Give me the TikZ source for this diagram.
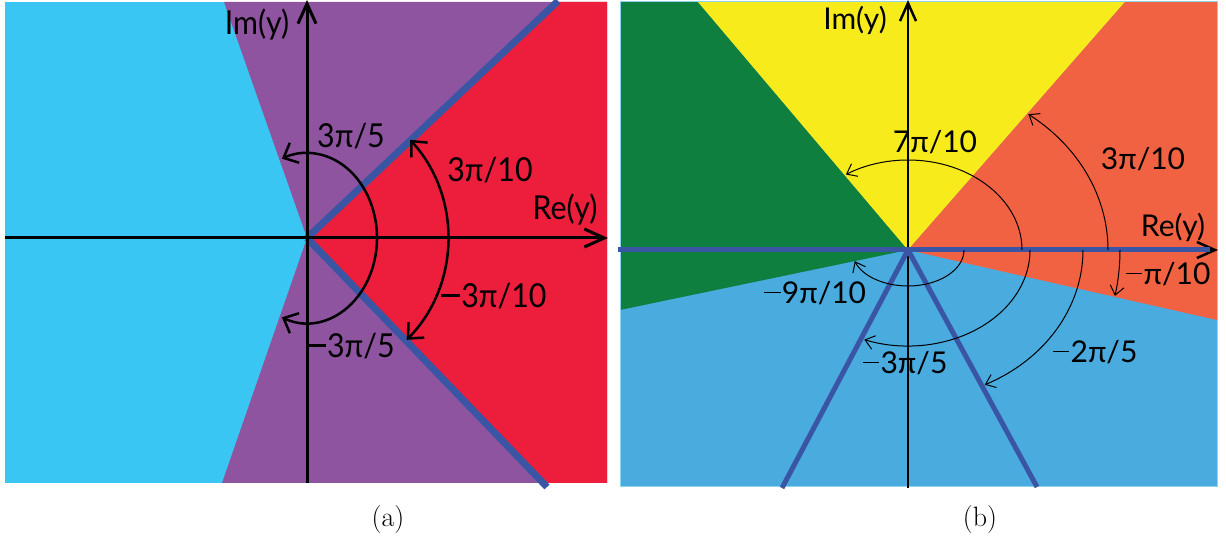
\documentclass[tikz,border=0pt]{standalone}
\usepackage{fontspec}
\newfontfamily\labfont{Lato}
\newfontfamily\labfontA[FakeStretch=0.92]{Lato}
\newcommand\mneg{\rule[0.33em]{0.56em}{0.065em}\hspace{0.04em}}
\usetikzlibrary{arrows.meta}
\definecolor{cyanA}{HTML}{3AC6F3}
\definecolor{purpA}{HTML}{8F54A0}
\definecolor{redA}{HTML}{EC1E3C}
\definecolor{blueL}{HTML}{3A55A4}
\definecolor{greenB}{HTML}{0F7F3F}
\definecolor{yellowB}{HTML}{F7EB1B}
\definecolor{orangeB}{HTML}{F16243}
\definecolor{lblueB}{HTML}{4AABDF}
\definecolor{borderB}{HTML}{8FD3F0}
\begin{document}
\begin{tikzpicture}[x=1pt,y=1pt,
  labA/.style={font=\labfontA\fontsize{33}{38}\selectfont, inner sep=0pt},
  lab/.style={font=\labfont\fontsize{30}{36}\selectfont, inner sep=0pt},
  captxt/.style={font=\fontsize{28}{32}\selectfont, inner sep=0pt},
  axisA/.style={line width=3pt, -{Straight Barb[length=20pt,width=18pt]}},
  axisB/.style={line width=2.5pt, -{Straight Barb[length=18pt,width=16pt]}},
  arcA/.style={line width=2.5pt, {Straight Barb[length=12pt,width=22pt]}-{Straight Barb[length=12pt,width=22pt]}},
  arcB/.style={line width=1pt, -{Straight Barb[length=9pt,width=14pt]}},
  bluelineA/.style={blueL, line width=7pt},
  bluelineB/.style={blueL, line width=5pt}]
\useasboundingbox (0,0) rectangle (1226,540);
\coordinate (Oa) at (307,302);
\coordinate (Ob) at (908,290);
% ---------- panel (a)
\fill[cyanA] (5,57) rectangle (607,538);
\fill[purpA] (224,538) -- (607,538) -- (607,57) -- (222,57) -- (Oa) -- cycle;
\fill[redA] (Oa) -- (556,538) -- (607,538) -- (607,57) -- (543,57) -- cycle;
\draw[bluelineA] (Oa) -- (558,539);
\draw[bluelineA] (Oa) -- (547,53);
\draw[axisA] (5,302) -- (608,302);
\draw[axisA] (307,57) -- (307,540);
\draw[arcA,shift={(Oa)}] (-111:70 and 85) arc[start angle=-111,end angle=111,x radius=70,y radius=85];
\draw[arcA,shift={(Oa)}] (-45:141 and 144) arc[start angle=-45,end angle=43,x radius=141,y radius=144];
\node[labA] (ima) at (257,515) {Im(y)};
\node[labA] (rea) at (565,330) {Re(y)};
\node[labA] (a1) at (351,404) {3π/5};
\node[labA] (a2) at (490,370) {3π/10};
\node[labA] (a3) at (494,244) {\mneg 3π/10};
\node[labA] (a4) at (351,194) {\mneg 3π/5};
\node[captxt] (capa) at (388,20) {(a)};
% ---------- panel (b)
\fill[lblueB] (620,53) rectangle (1217,538);
\fill[greenB] (620,538) -- (698,538) -- (Ob) -- (620,230) -- cycle;
\fill[yellowB] (698,538) -- (1125,538) -- (Ob) -- cycle;
\fill[orangeB] (1125,538) -- (1217,538) -- (1217,220) -- (Ob) -- cycle;
\draw[borderB, line width=1pt] (620,53) rectangle (1217,538);
\draw[axisB] (908,52) -- (908,540);
\draw[axisB] (618,290) -- (1218,290);
\draw[bluelineB] (618,290) -- (1210,290);
\draw[bluelineB] (Ob) -- (782,52);
\draw[bluelineB] (Ob) -- (1037,53);
\draw[arcB,shift={(Ob)}] (0:114 and 90) arc[start angle=0,end angle=123,x radius=114,y radius=90];
\draw[arcB,shift={(Ob)}] (0:200 and 170) arc[start angle=0,end angle=53,x radius=200,y radius=170];
\draw[arcB,shift={(Ob)}] (0:212 and 212) arc[start angle=0,end angle=-12.5,x radius=212,y radius=212];
\draw[arcB,shift={(Ob)}] (0:175 and 150) arc[start angle=0,end angle=-64,x radius=175,y radius=150];
\draw[arcB,shift={(Ob)}] (0:122 and 96) arc[start angle=0,end angle=-111,x radius=122,y radius=96];
\draw[arcB,shift={(Ob)}] (0:56 and 36) arc[start angle=0,end angle=-162,x radius=56,y radius=36];
\node[lab] (imb) at (855,520) {Im(y)};
\node[lab] (reb) at (1173,313) {Re(y)};
\node[lab] (b1) at (935,398) {7π/10};
\node[lab] (b2) at (1143,381) {3π/10};
\node[lab] (b3) at (1168,266) {\mneg π/10};
\node[lab] (b4) at (1095,188) {\mneg 2π/5};
\node[lab] (b5) at (815,247) {\mneg 9π/10};
\node[lab] (b6) at (905,177) {\mneg 3π/5};
\node[captxt] (capb) at (980,20) {(b)};
\end{tikzpicture}
\end{document}
